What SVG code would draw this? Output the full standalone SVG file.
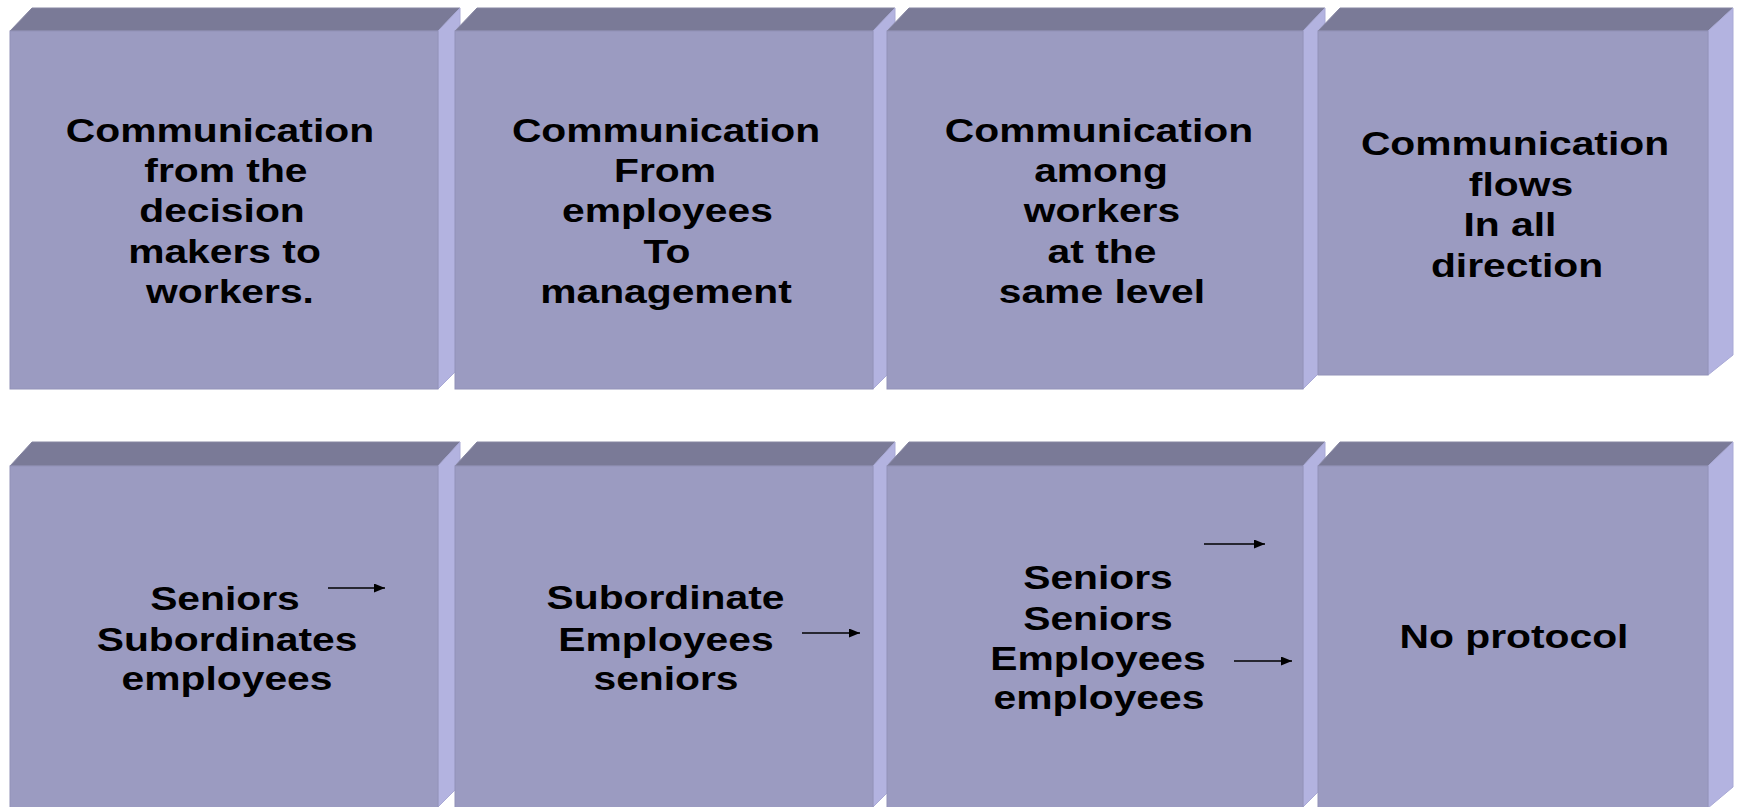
<svg xmlns="http://www.w3.org/2000/svg" width="1739" height="807" viewBox="0 0 1739 807">
<style>
.front{fill:#9B9BC1;stroke:#9292B8;stroke-width:1}
.top{fill:#7A7A97;stroke:#8686A2;stroke-width:1}
.side{fill:#B3B3E0;stroke:#A9A9D6;stroke-width:1}
.t{font-family:"Liberation Sans",Arial,sans-serif;font-weight:bold;font-size:34px;fill:#000;text-anchor:middle}
.arrow{stroke:#000;stroke-width:1.6;fill:none;marker-end:url(#ah)}
</style>
<defs>
<marker id="ah" markerUnits="userSpaceOnUse" markerWidth="12" markerHeight="10" refX="11" refY="4.5" orient="auto">
<path d="M0,0 L11,4.5 L0,9 z" fill="#000"/>
</marker>
</defs>
<rect width="1739" height="807" fill="#fff"/>

<g id="box-top-1">
<polygon class="top" points="10,31 32,8 460,8 438,31"/>
<polygon class="side" points="438,31 460,8 460,367 438,389"/>
<rect class="front" x="10" y="31" width="428" height="358"/>
<g transform="scale(1.2 1)">
<text class="t" x="183.3" y="142">Communication</text>
<text class="t" x="188.3" y="182">from the</text>
<text class="t" x="185" y="222">decision</text>
<text class="t" x="187.1" y="263">makers to</text>
<text class="t" x="191.7" y="303">workers.</text>
</g>
</g>

<g id="box-top-2">
<polygon class="top" points="455,31 477,8 895,8 873,31"/>
<polygon class="side" points="873,31 895,8 895,367 873,389"/>
<rect class="front" x="455" y="31" width="418" height="358"/>
<g transform="scale(1.2 1)">
<text class="t" x="555" y="142">Communication</text>
<text class="t" x="554.2" y="182">From</text>
<text class="t" x="556.2" y="222">employees</text>
<text class="t" x="555.8" y="263">To</text>
<text class="t" x="555" y="303">management</text>
</g>
</g>

<g id="box-top-3">
<polygon class="top" points="887,31 909,8 1325,8 1303,31"/>
<polygon class="side" points="1303,31 1325,8 1325,367 1303,389"/>
<rect class="front" x="887" y="31" width="416" height="358"/>
<g transform="scale(1.2 1)">
<text class="t" x="915.8" y="142">Communication</text>
<text class="t" x="917.5" y="182">among</text>
<text class="t" x="918.3" y="222">workers</text>
<text class="t" x="918.3" y="263">at the</text>
<text class="t" x="918.3" y="303">same level</text>
</g>
</g>

<g id="box-top-4">
<polygon class="top" points="1318,31 1340,8 1733,8 1708,31"/>
<polygon class="side" points="1708,31 1733,8 1733,355 1708,375"/>
<rect class="front" x="1318" y="31" width="390" height="344"/>
<g transform="scale(1.2 1)">
<text class="t" x="1262.5" y="155">Communication</text>
<text class="t" x="1267.5" y="196">flows</text>
<text class="t" x="1258.3" y="236">In all</text>
<text class="t" x="1264.2" y="277">direction</text>
</g>
</g>

<g id="box-bottom-1">
<polygon class="top" points="10,466 32,442 460,442 438,466"/>
<polygon class="side" points="438,466 460,442 460,785 438,807"/>
<rect class="front" x="10" y="466" width="428" height="342"/>
<g transform="scale(1.2 1)">
<text class="t" x="187.5" y="610">Seniors</text>
<text class="t" x="189.2" y="651">Subordinates</text>
<text class="t" x="189.2" y="690">employees</text>
</g>
</g>

<g id="box-bottom-2">
<polygon class="top" points="455,466 477,442 895,442 873,466"/>
<polygon class="side" points="873,466 895,442 895,785 873,807"/>
<rect class="front" x="455" y="466" width="418" height="342"/>
<g transform="scale(1.2 1)">
<text class="t" x="554.6" y="609">Subordinate</text>
<text class="t" x="555" y="651">Employees</text>
<text class="t" x="555" y="690">seniors</text>
</g>
</g>

<g id="box-bottom-3">
<polygon class="top" points="887,466 909,442 1325,442 1303,466"/>
<polygon class="side" points="1303,466 1325,442 1325,785 1303,807"/>
<rect class="front" x="887" y="466" width="416" height="342"/>
<g transform="scale(1.2 1)">
<text class="t" x="915" y="589">Seniors</text>
<text class="t" x="915" y="630">Seniors</text>
<text class="t" x="915" y="670">Employees</text>
<text class="t" x="915.8" y="709">employees</text>
</g>
</g>

<g id="box-bottom-4">
<polygon class="top" points="1318,466 1340,442 1733,442 1708,466"/>
<polygon class="side" points="1708,466 1733,442 1733,787 1708,808"/>
<rect class="front" x="1318" y="466" width="390" height="342"/>
<g transform="scale(1.2 1)">
<text class="t" x="1261.7" y="648">No protocol</text>
</g>
</g>

<g id="connectors">
<line class="arrow" x1="328" y1="588" x2="385" y2="588"/>
<line class="arrow" x1="802" y1="633" x2="860" y2="633"/>
<line class="arrow" x1="1204" y1="544" x2="1265" y2="544"/>
<line class="arrow" x1="1234" y1="661" x2="1292" y2="661"/>
</g>
</svg>
